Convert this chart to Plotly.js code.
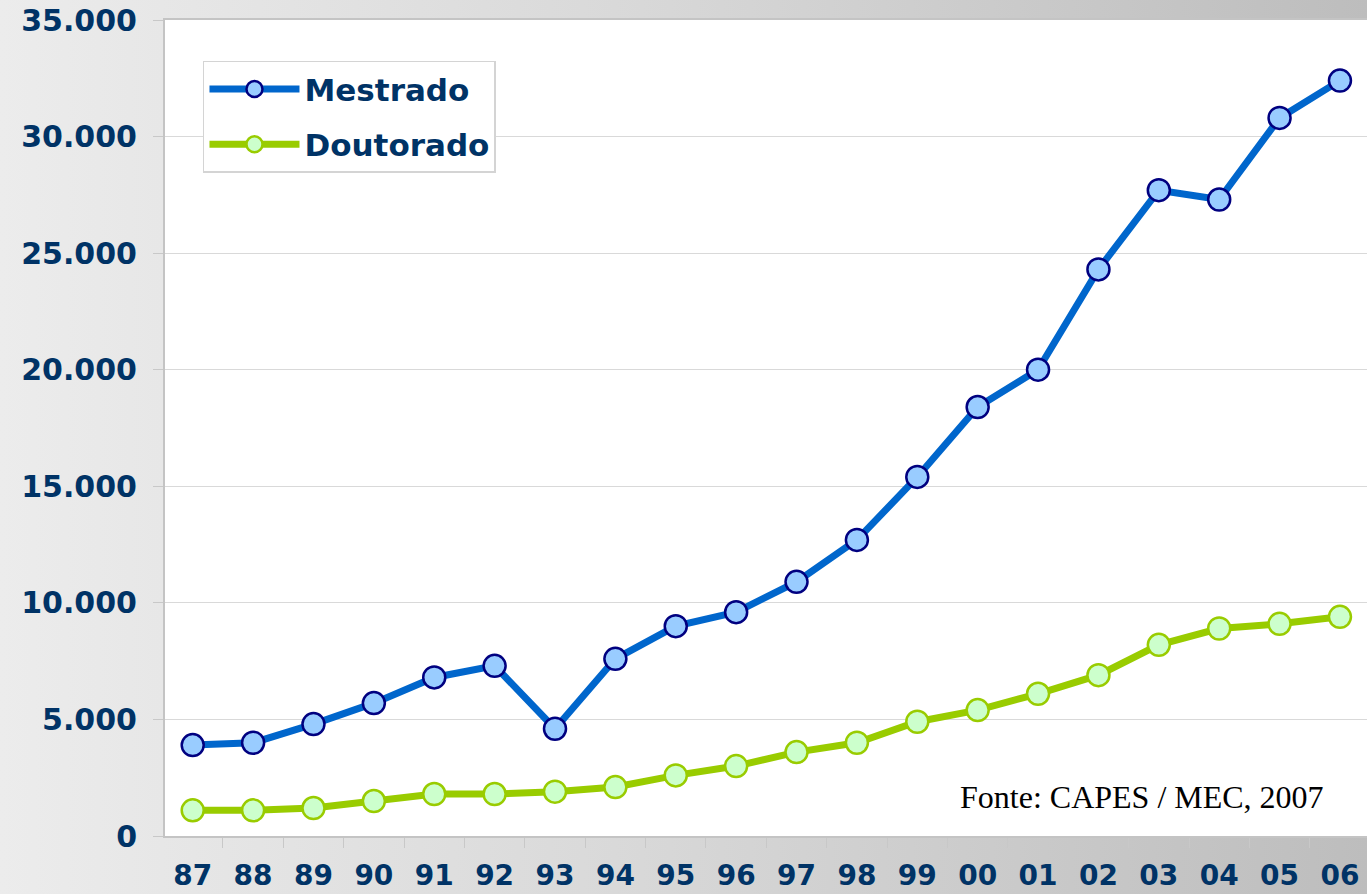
<!DOCTYPE html>
<html>
<head>
<meta charset="utf-8">
<script src="https://cdn.plot.ly/plotly-3.0.1.min.js"></script>
<style>
  html, body { margin: 0; padding: 0; }
  body { width: 1367px; height: 894px; overflow: hidden;
         background: linear-gradient(to right, #ececec 0%, #d9d9d9 45%, #bdbdbd 100%); }
  #chart { width: 1367px; height: 894px; }
</style>
</head>
<body>
<div id="chart"></div>
<script>
const years = ['87','88','89','90','91','92','93','94','95','96','97','98','99','00','01','02','03','04','05','06'];
const mestrado = [3900, 4000, 4800, 5700, 6800, 7300, 4600, 7600, 9000, 9600, 10900, 12700, 15400, 18400, 20000, 24300, 27700, 27300, 30800, 32400];
const doutorado = [1100, 1100, 1200, 1500, 1800, 1800, 1900, 2100, 2600, 3000, 3600, 4000, 4900, 5400, 6100, 6900, 8200, 8900, 9100, 9400];
const yTickVals = [0, 5000, 10000, 15000, 20000, 25000, 30000, 35000];
const yTickText = ['0', '5.000', '10.000', '15.000', '20.000', '25.000', '30.000', '35.000'];
const sourceNote = 'Fonte: CAPES / MEC, 2007';

const navy = '#003366';
const yTickFont = { family: 'DejaVu Sans, Verdana, sans-serif', size: 30, color: navy, weight: 'bold' };
const xTickFont = { family: 'DejaVu Sans, Verdana, sans-serif', size: 28, color: navy, weight: 'bold' };

const traces = [
  {
    x: years, y: mestrado, name: 'Mestrado', type: 'scatter', mode: 'lines+markers',
    legendgroup: 'm',
    line: { color: '#0066cc', width: 7 },
    marker: { size: 22, color: '#99ccff', line: { color: '#000080', width: 2.5 } }
  },
  {
    x: years, y: doutorado, name: 'Doutorado', type: 'scatter', mode: 'lines+markers',
    legendgroup: 'd',
    line: { color: '#99cc00', width: 7 },
    marker: { size: 22, color: '#ccffcc', line: { color: '#99cc00', width: 2.5 } }
  }
];

const layout = {
  width: 1367, height: 894,
  margin: { l: 165, r: 0, t: 20, b: 58, pad: 0 },
  paper_bgcolor: 'rgba(0,0,0,0)',
  plot_bgcolor: '#ffffff',
  showlegend: true,
  legend: {
    x: 0.0316, y: 0.95, xanchor: 'left', yanchor: 'top',
    bgcolor: '#ffffff', bordercolor: '#d4d4d4', borderwidth: 1.5,
    font: { family: 'DejaVu Sans, Verdana, sans-serif', size: 31, color: navy, weight: 'bold' },
    tracegroupgap: 12, traceorder: 'grouped',
    itemwidth: 90
  },
  xaxis: {
    type: 'category',
    range: [-0.459, 19.448],
    tickson: 'boundaries',
    ticks: 'outside', ticklen: 10, tickcolor: '#c8c8c8', tickwidth: 1,
    showgrid: false, zeroline: false,
    showline: true, linecolor: '#c4c4c4', linewidth: 2, mirror: true,
    tickfont: xTickFont,
    ticklabelstandoff: 13,
    fixedrange: true
  },
  yaxis: {
    range: [0, 35000],
    tickvals: yTickVals, ticktext: yTickText,
    ticks: 'outside', ticklen: 10, tickcolor: '#c8c8c8', tickwidth: 1,
    showgrid: true, gridcolor: '#d9d9d9', gridwidth: 1,
    zeroline: false,
    showline: true, linecolor: '#c4c4c4', linewidth: 2, mirror: true,
    tickfont: yTickFont,
    ticklabelstandoff: 10,
    fixedrange: true
  },
  annotations: [
    {
      text: sourceNote, xref: 'paper', yref: 'paper',
      x: 0.813, y: 0.048, xanchor: 'center', yanchor: 'middle',
      showarrow: false,
      font: { family: 'Liberation Serif, Times New Roman, serif', size: 32, color: '#000000' }
    }
  ]
};

Plotly.newPlot('chart', traces, layout, { displayModeBar: false, staticPlot: true });
</script>
</body>
</html>
